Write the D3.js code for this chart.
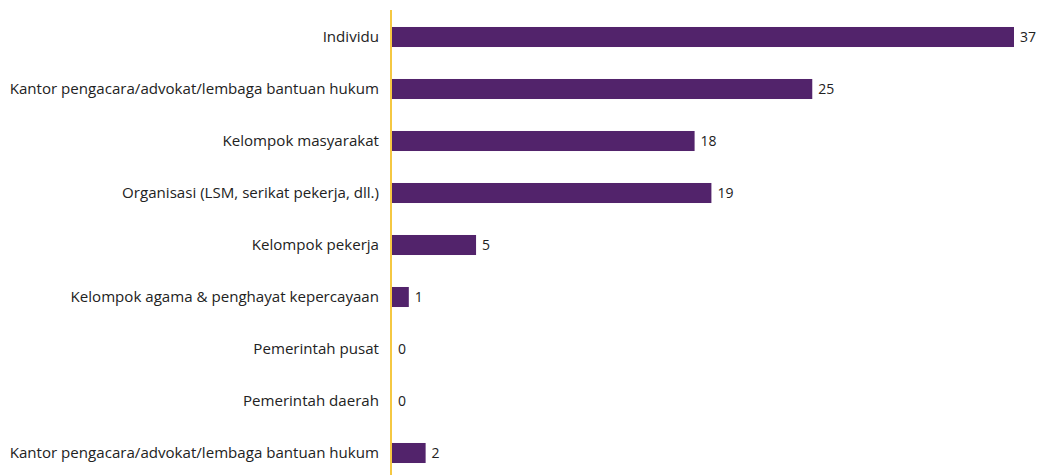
<!DOCTYPE html>
<html><head><meta charset="utf-8">
<script src="https://cdn.jsdelivr.net/npm/d3@7"></script>
<style>body{margin:0;background:#fff;}svg{display:block;}</style>
</head><body>
<svg id="c" width="1037" height="475"></svg>
<script>
const categories = [
  "Individu",
  "Kantor pengacara/advokat/lembaga bantuan hukum",
  "Kelompok masyarakat",
  "Organisasi (LSM, serikat pekerja, dll.)",
  "Kelompok pekerja",
  "Kelompok agama & penghayat kepercayaan",
  "Pemerintah pusat",
  "Pemerintah daerah",
  "Kantor pengacara/advokat/lembaga bantuan hukum"
];
const values = [37, 25, 18, 19, 5, 1, 0, 0, 2];

const svg = d3.select("#c");
const idx = d3.range(categories.length);
const y = d3.scaleBand().domain(idx).range([11, 479]).paddingInner(0.615).paddingOuter(0.3075);
const x = d3.scaleLinear().domain([0, 37]).range([392, 1014]);
const font = "'Open Sans', sans-serif";

svg.append("g").selectAll("rect").data(idx).join("rect")
  .attr("x", x(0)).attr("y", i => y(i))
  .attr("width", i => x(values[i]) - x(0)).attr("height", y.bandwidth())
  .attr("fill", "#52236b");

svg.append("line").attr("x1", 391).attr("x2", 391).attr("y1", 10).attr("y2", 475)
  .attr("stroke", "#f5c842").attr("stroke-width", 2);

svg.append("g").selectAll("text").data(idx).join("text")
  .attr("x", 379).attr("y", i => y(i) + y.bandwidth()/2).attr("dy", "0.35em")
  .attr("text-anchor", "end").attr("font-family", font).attr("font-size", 15.1)
  .attr("fill", "#222").text(i => categories[i]);

svg.append("g").selectAll("text").data(idx).join("text")
  .attr("x", i => x(values[i]) + 6).attr("y", i => y(i) + y.bandwidth()/2).attr("dy", "0.35em")
  .attr("font-family", font).attr("font-size", 14)
  .attr("fill", "#222").text(i => values[i]);
</script>
</body></html>
